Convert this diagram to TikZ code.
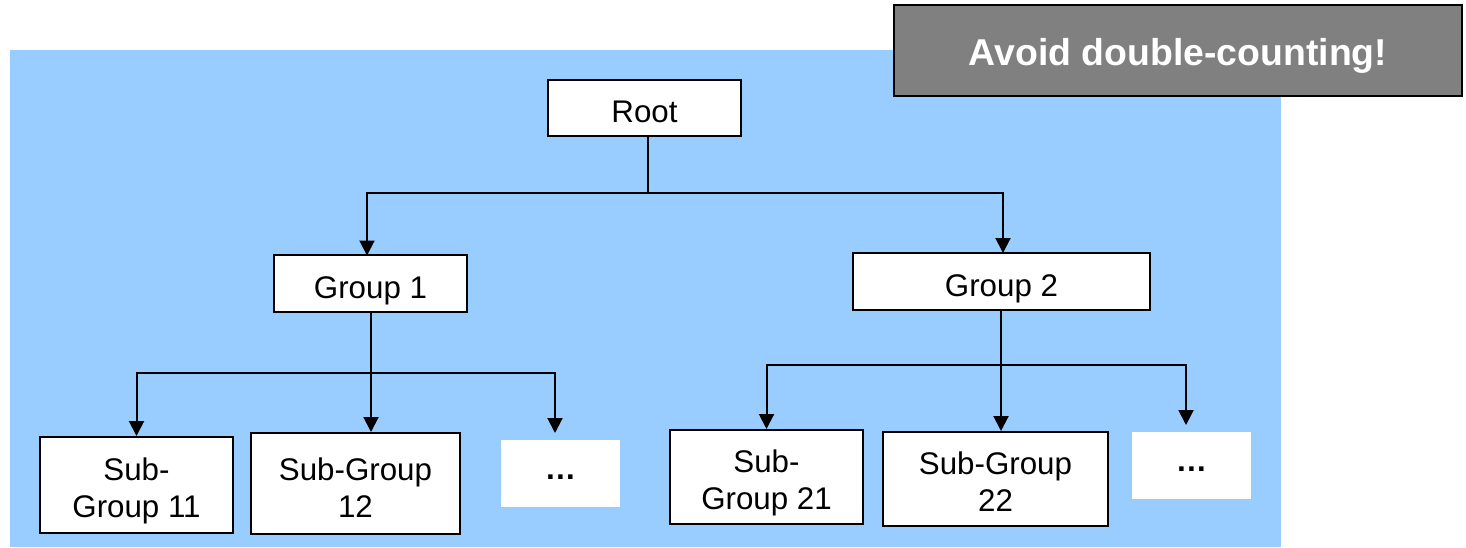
\documentclass[tikz,border=0pt]{standalone}
\usepackage{fontspec}
\setmainfont{Liberation Sans}
\usetikzlibrary{arrows.meta}
\definecolor{bgblue}{HTML}{99CCFF}
\definecolor{notegray}{HTML}{808080}
\newcommand{\lowtext}[2][6pt]{\raisebox{-#1}[\height][\depth]{\begin{tabular}{@{}c@{}}#2\end{tabular}}}
\tikzset{
  box/.style={draw=black, fill=white, line width=2pt, inner sep=0pt, align=center,
    font=\fontsize{31.3}{37}\selectfont},
  dotbox/.style={fill=white, inner sep=0pt, align=center, font=\fontsize{31.3}{37}\selectfont\bfseries},
  conn/.style={line width=2pt},
  arr/.style={line width=2pt, -{Triangle[width=15pt,length=15pt]}},
  note/.style={draw=black, fill=notegray, line width=2.5pt, text=white, inner sep=0pt,
    font=\fontsize{37.4}{44}\selectfont\bfseries}
}
\begin{document}
\begin{tikzpicture}[x=1pt,y=-1pt]
\useasboundingbox (0,0) rectangle (1466,547);
\fill[bgblue] (10,50) rectangle (1281,547);
\node[note, minimum width=568pt, minimum height=91pt] (note) at (1178,50.5) {\lowtext[6.5pt]{Avoid double-counting!}};

\node[box, minimum width=193pt, minimum height=56pt] (root) at (644.5,108) {\lowtext[7pt]{Root}};
\node[box, minimum width=193pt, minimum height=57pt] (g1) at (370.5,283.5) {\lowtext[7.5pt]{Group 1}};
\node[box, minimum width=297pt, minimum height=57pt] (g2) at (1001.5,281.5) {\lowtext[7.5pt]{Group 2}};
\node[box, minimum width=193pt, minimum height=96pt] (s11) at (136.5,485) {\lowtext[6.5pt]{Sub-\\Group 11}};
\node[box, minimum width=209pt, minimum height=101pt] (s12) at (355.5,483.5) {\lowtext[8.5pt]{Sub-Group\\12}};
\node[dotbox, minimum width=119pt, minimum height=67pt] (d1) at (560.5,473.5) {\lowtext[-1pt]{\dots}};
\node[box, minimum width=193pt, minimum height=94pt] (s21) at (766.5,477) {\lowtext[6.5pt]{Sub-\\Group 21}};
\node[box, minimum width=225pt, minimum height=94pt] (s22) at (995.5,479) {\lowtext[6.5pt]{Sub-Group\\22}};
\node[dotbox, minimum width=119pt, minimum height=67pt] (d2) at (1191.5,465.5) {\lowtext[-1pt]{\dots}};

\coordinate (r) at (648,193);
\coordinate (b1) at (371,373);
\coordinate (b2) at (1001,365);
\coordinate (d1tip) at (555,433);
\coordinate (d2tip) at (1186,425);

\draw[conn] (r |- root.south) -- (r);
\draw[arr] (r) -| (367,255.5);
\draw[arr] (r) -| (1003,253);

\draw[conn] (b1 |- g1.south) -- (b1);
\draw[arr] (b1) -| (s11.north);
\draw[arr] (b1) -- (b1 |- s12.north);
\draw[arr] (b1) -| (d1tip);

\draw[conn] (b2 |- g2.south) -- (b2);
\draw[arr] (b2) -| (s21.north);
\draw[arr] (b2) -- (b2 |- s22.north);
\draw[arr] (b2) -| (d2tip);
\end{tikzpicture}
\end{document}
